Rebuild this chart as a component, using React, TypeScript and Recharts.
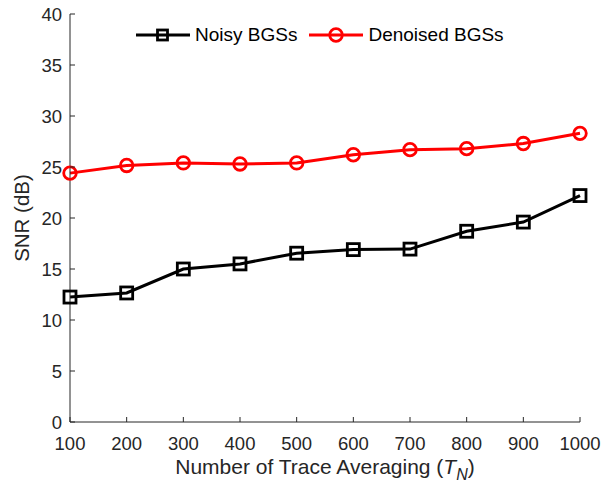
import React from 'react';
import { LineChart, Line, XAxis, YAxis, Legend, Label } from 'recharts';

const traceAveraging = [100, 200, 300, 400, 500, 600, 700, 800, 900, 1000];
const noisySnr = [12.25, 12.65, 15.0, 15.5, 16.55, 16.9, 16.95, 18.7, 19.6, 22.2];
const denoisedSnr = [24.4, 25.15, 25.4, 25.3, 25.4, 26.2, 26.7, 26.8, 27.3, 28.3];
const xTicks = [100, 200, 300, 400, 500, 600, 700, 800, 900, 1000];
const yTicks = [0, 5, 10, 15, 20, 25, 30, 35, 40];

const data = traceAveraging.map((t, i) => ({
  t,
  noisy: noisySnr[i],
  denoised: denoisedSnr[i],
}));

const AXIS = '#262626';
const FONT = '"Liberation Sans", Arial, sans-serif';
const TICK_LEN = 5;

const BottomTick = ({ x, y, payload }: any) => (
  <g>
    <line x1={x} x2={x} y1={y} y2={y - TICK_LEN} stroke={AXIS} strokeWidth={1} />
    <text x={x} y={y + 28} textAnchor="middle" fontSize={18.5} fontFamily={FONT} fill={AXIS}>
      {payload.value}
    </text>
  </g>
);

const TopTick = ({ x, y }: any) => (
  <line x1={x} x2={x} y1={y} y2={y + TICK_LEN} stroke={AXIS} strokeWidth={1} />
);

const LeftTick = ({ x, y, payload }: any) => (
  <g>
    <line x1={x} x2={x + TICK_LEN} y1={y} y2={y} stroke={AXIS} strokeWidth={1} />
    <text x={x - 8} y={y + 6.5} textAnchor="end" fontSize={18.5} fontFamily={FONT} fill={AXIS}>
      {payload.value}
    </text>
  </g>
);

const RightTick = ({ x, y }: any) => (
  <line x1={x} x2={x - TICK_LEN} y1={y} y2={y} stroke={AXIS} strokeWidth={1} />
);

const SquareDot = ({ cx, cy, index }: any) => (
  <rect
    key={`sq-${index}`}
    x={cx - 6}
    y={cy - 6}
    width={12}
    height={12}
    fill="none"
    stroke="#000"
    strokeWidth={2.8}
  />
);

const CircleDot = ({ cx, cy, index }: any) => (
  <circle key={`ci-${index}`} cx={cx} cy={cy} r={6.3} fill="none" stroke="#ff0000" strokeWidth={2.8} />
);

const LegendBox = () => (
  <div
    style={{
      display: 'flex',
      alignItems: 'center',
      fontFamily: FONT,
      fontSize: 19,
      color: '#000',
      lineHeight: '22px',
    }}
  >
    <svg width={54} height={22} style={{ display: 'block' }}>
      <line x1={0} x2={54} y1={11} y2={11} stroke="#000" strokeWidth={3} />
      <rect x={21.5} y={6} width={10} height={10} fill="none" stroke="#000" strokeWidth={2.8} />
    </svg>
    <span style={{ marginLeft: 5 }}>Noisy BGSs</span>
    <svg width={54} height={22} style={{ display: 'block', marginLeft: 12 }}>
      <line x1={0} x2={54} y1={11} y2={11} stroke="#ff0000" strokeWidth={3} />
      <circle cx={27} cy={11} r={6.3} fill="none" stroke="#ff0000" strokeWidth={2.8} />
    </svg>
    <span style={{ marginLeft: 5 }}>Denoised BGSs</span>
  </div>
);

export default function App() {
  return (
    <div style={{ position: 'absolute', left: 0, top: 0, background: '#fff' }}>
      <LineChart width={610} height={488} data={data} margin={{ top: 14, right: 30, bottom: 0, left: 0 }}>
        <XAxis
          dataKey="t"
          type="number"
          domain={[100, 1000]}
          ticks={xTicks}
          height={66}
          tickSize={0}
          tickMargin={0}
          tickLine={false}
          tick={<BottomTick />}
          stroke={AXIS}
          interval={0}
        >
          <Label
            content={({ viewBox }: any) => (
              <text
                x={viewBox.x + viewBox.width / 2}
                y={474}
                textAnchor="middle"
                fontSize={21}
                fontFamily={FONT}
                fill={AXIS}
              >
                Number of Trace Averaging (
                <tspan fontStyle="italic">T</tspan>
                <tspan fontStyle="italic" fontSize={16} dy={6}>N</tspan>
                <tspan dy={-6}>)</tspan>
              </text>
            )}
          />
        </XAxis>
        <XAxis
          xAxisId="top"
          dataKey="t"
          type="number"
          orientation="top"
          domain={[100, 1000]}
          ticks={xTicks}
          height={0}
          tickSize={0}
          tickMargin={0}
          tickLine={false}
          tick={<TopTick />}
          stroke={AXIS}
          interval={0}
        />
        <YAxis
          type="number"
          domain={[0, 40]}
          ticks={yTicks}
          width={70}
          tickSize={0}
          tickMargin={0}
          tickLine={false}
          tick={<LeftTick />}
          stroke={AXIS}
          interval={0}
        >
          <Label
            content={({ viewBox }: any) => {
              const cy = viewBox.y + viewBox.height / 2;
              return (
                <text
                  x={29}
                  y={cy}
                  textAnchor="middle"
                  fontSize={20.5}
                  fontFamily={FONT}
                  fill={AXIS}
                  transform={`rotate(-90 29 ${cy})`}
                >
                  SNR (dB)
                </text>
              );
            }}
          />
        </YAxis>
        <YAxis
          yAxisId="right"
          orientation="right"
          type="number"
          domain={[0, 40]}
          ticks={yTicks}
          width={0}
          tickSize={0}
          tickMargin={0}
          tickLine={false}
          tick={<RightTick />}
          stroke={AXIS}
          interval={0}
        />
        <Legend
          layout="horizontal"
          verticalAlign="middle"
          align="center"
          content={() => <LegendBox />}
          wrapperStyle={{ top: 24, left: 136, width: 'auto' }}
        />
        <Line
          type="linear"
          dataKey="noisy"
          stroke="#000"
          strokeWidth={3}
          dot={SquareDot}
          activeDot={false}
          isAnimationActive={false}
        />
        <Line
          type="linear"
          dataKey="denoised"
          stroke="#ff0000"
          strokeWidth={3}
          dot={CircleDot}
          activeDot={false}
          isAnimationActive={false}
        />
      </LineChart>
    </div>
  );
}
